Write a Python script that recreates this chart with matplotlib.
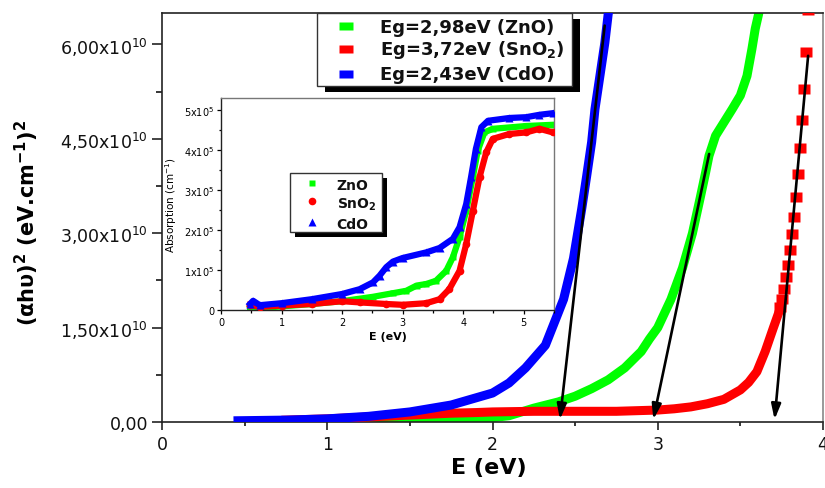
import numpy as np
import matplotlib
matplotlib.use("Agg")
import matplotlib.pyplot as plt
from matplotlib.ticker import MultipleLocator
from matplotlib.patches import Rectangle

# ---------------- data (main plot): (alpha h nu)^2 in units of 1e10 (eV.cm-1)^2
zno_E = [0.48, 1.0, 1.4, 1.6, 1.8, 2.0, 2.1, 2.25, 2.4, 2.5, 2.6, 2.7, 2.8, 2.9, 2.95,
         3.0, 3.08, 3.15, 3.21, 3.26, 3.29, 3.31, 3.33, 3.35, 3.40, 3.45, 3.50, 3.54,
         3.57, 3.59, 3.61, 3.63]
zno_Y = [0.0, 0.005, 0.01, 0.02, 0.04, 0.07, 0.10, 0.22, 0.32, 0.41, 0.53, 0.67, 0.86,
         1.12, 1.32, 1.5, 1.95, 2.45, 3.0, 3.6, 3.97, 4.23, 4.39, 4.55, 4.76, 4.97,
         5.19, 5.5, 5.93, 6.25, 6.48, 6.75]

sno2_E = [0.75, 1.0, 1.25, 1.5, 1.75, 1.9, 2.0, 2.25, 2.5, 2.75, 3.0, 3.1, 3.2, 3.3,
          3.4, 3.5, 3.55, 3.6, 3.65, 3.70, 3.727]
sno2_Y = [0.03, 0.05, 0.08, 0.11, 0.14, 0.15, 0.16, 0.17, 0.17, 0.17, 0.19, 0.21, 0.24,
          0.29, 0.36, 0.51, 0.63, 0.8, 1.12, 1.5, 1.7]
# separated points of the steep SnO2 edge
sno2_top_E = [3.739, 3.751, 3.765, 3.777, 3.789, 3.801, 3.813, 3.823, 3.836, 3.848,
              3.861, 3.873, 3.884, 3.898, 3.908]
sno2_top_Y = [1.82, 1.95, 2.11, 2.30, 2.50, 2.73, 2.98, 3.26, 3.58, 3.94, 4.35, 4.80,
              5.30, 5.885, 6.55]

cdo_E = [0.46, 0.75, 1.0, 1.25, 1.5, 1.75, 2.0, 2.1, 2.2, 2.32, 2.43, 2.49, 2.54, 2.57,
         2.60, 2.62, 2.65, 2.68, 2.70, 2.72]
cdo_Y = [0.02, 0.03, 0.05, 0.09, 0.16, 0.27, 0.46, 0.62, 0.86, 1.22, 1.95, 2.6, 3.39,
         3.91, 4.45, 4.97, 5.5, 6.03, 6.48, 6.8]

# tangent arrows (start -> end on the E axis)
arrow_start_E = [3.311, 3.91, 2.679]
arrow_start_Y = [4.26, 5.82, 6.30]
arrow_end_E = [2.973, 3.707, 2.408]
arrow_end_Y = [0.04, 0.04, 0.04]

legend_labels = ["Eg=2,98eV (ZnO)", r"Eg=3,72eV (SnO$_\mathbf{2}$)", "Eg=2,43eV (CdO)"]

x_ticks = [0, 1, 2, 3, 4]
y_ticks = [0.0, 1.5, 3.0, 4.5, 6.0]
y_tick_labels = ["0,00", r"1,50x10$^{10}$", r"3,00x10$^{10}$", r"4,50x10$^{10}$",
                 r"6,00x10$^{10}$"]

# ---------------- data (inset): absorption in units of 1e5 cm-1
zno_abs_E = [0.48, 1.0, 1.5, 2.0, 2.51, 2.84, 3.06, 3.23, 3.39, 3.55, 3.72, 3.83, 3.94,
             4.05, 4.16, 4.24, 4.35, 4.49, 5.04, 5.48]
zno_abs = [0.03, 0.09, 0.15, 0.22, 0.33, 0.42, 0.48, 0.61, 0.65, 0.73, 0.98, 1.32, 1.82,
           2.48, 3.32, 3.98, 4.44, 4.53, 4.60, 4.63]

sno2_abs_E = [0.48, 0.64, 1.0, 1.5, 2.0, 2.29, 2.73, 3.0, 3.39, 3.61, 3.77, 3.94, 4.05,
              4.16, 4.27, 4.38, 4.49, 4.76, 5.04, 5.26, 5.48]
sno2_abs = [0.13, 0.08, 0.11, 0.15, 0.22, 0.19, 0.15, 0.13, 0.17, 0.27, 0.52, 0.98, 1.65,
            2.48, 3.32, 3.94, 4.28, 4.40, 4.44, 4.53, 4.44]

cdo_abs_E = [0.48, 0.53, 0.64, 1.0, 1.5, 2.0, 2.29, 2.51, 2.62, 2.73, 2.84, 3.0, 3.39,
             3.61, 3.83, 3.94, 4.05, 4.13, 4.21, 4.30, 4.41, 4.76, 5.04, 5.26, 5.48]
cdo_abs = [0.15, 0.23, 0.12, 0.17, 0.27, 0.40, 0.52, 0.69, 0.86, 1.07, 1.21, 1.30, 1.44,
           1.55, 1.78, 2.07, 2.65, 3.32, 4.03, 4.57, 4.73, 4.80, 4.82, 4.88, 4.92]

inset_legend_labels = ["ZnO", r"SnO$_\mathbf{2}$", "CdO"]
inset_x_ticks = [0, 1, 2, 3, 4, 5]
inset_y_ticks = [0, 1, 2, 3, 4, 5]
inset_y_tick_labels = ["0", r"1x10$^5$", r"2x10$^5$", r"3x10$^5$", r"4x10$^5$", r"5x10$^5$"]

# ---------------- style
GREEN, RED, BLUE = "#00ff00", "#ff0000", "#0000ff"
plt.rcParams["font.family"] = ["DejaVu Sans"]
plt.rcParams["mathtext.fontset"] = "dejavusans"

W, H = 825, 489
fig = plt.figure(figsize=(W / 100, H / 100), dpi=100)


def fr(x0, y0, x1, y1):
    return [x0 / W, 1 - y1 / H, (x1 - x0) / W, (y1 - y0) / H]


rect_marker = [(-1, -0.82), (1, -0.82), (1, 0.82), (-1, 0.82), (-1, -0.82)]
leg_marker = [(-1, -0.62), (1, -0.62), (1, 0.62), (-1, 0.62), (-1, -0.62)]

# ---------------- main axes
ax = fig.add_axes(fr(162, 14, 823, 423))
S = 1e10
band = 6.5
ax.plot(zno_E, np.array(zno_Y) * S, color=GREEN, lw=band, solid_capstyle="projecting",
        solid_joinstyle="round", zorder=2)
ax.plot(sno2_E, np.array(sno2_Y) * S, color=RED, lw=band, solid_capstyle="projecting",
        solid_joinstyle="round", zorder=3)
ax.plot(sno2_top_E, np.array(sno2_top_Y) * S, ls="none", marker=rect_marker, ms=8,
        color=RED, mec="none", zorder=3)
ax.plot(cdo_E, np.array(cdo_Y) * S, color=BLUE, lw=band, solid_capstyle="projecting",
        solid_joinstyle="round", zorder=4)

for xs, ys, xe, ye in zip(arrow_start_E, arrow_start_Y, arrow_end_E, arrow_end_Y):
    ax.annotate("", xy=(xe, ye * S), xytext=(xs, ys * S),
                arrowprops=dict(arrowstyle="-|>,head_length=0.9,head_width=0.28",
                                color="k", lw=1.9, shrinkA=0, shrinkB=0,
                                mutation_scale=10),
                zorder=6)

ax.set_xlim(0, 4)
ax.set_ylim(0, 6.5e10)
ax.set_xticks(x_ticks)
ax.set_xticklabels([str(t) for t in x_ticks])
ax.xaxis.set_minor_locator(MultipleLocator(0.5))
ax.set_yticks(np.array(y_ticks) * S)
ax.set_yticklabels(y_tick_labels)
ax.yaxis.set_minor_locator(MultipleLocator(0.75e10))
ax.tick_params(axis="x", which="major", direction="out", length=5.5, width=1.1,
               labelsize=12.5, pad=4, colors="#111")
ax.tick_params(axis="x", which="minor", direction="out", length=3, width=1.1)
ax.tick_params(axis="y", which="major", direction="out", length=7, width=1.1,
               labelsize=12.5, pad=3, colors="#111")
ax.tick_params(axis="y", which="minor", direction="out", length=4, width=1.1)
for sp in ["left", "bottom", "top"]:
    ax.spines[sp].set_linewidth(1.2)
    ax.spines[sp].set_color("#222")
ax.spines["right"].set_linewidth(1.2)
ax.spines["right"].set_color("#888")

ax.set_xlabel("E (eV)", fontsize=16, fontweight="bold")
ax.xaxis.set_label_coords(0.495, -0.085)
ax.set_ylabel(r"($\mathbf{\alpha}$h$\mathbf{\upsilon}$)$^\mathbf{2}$ (eV.cm$^\mathbf{-1}$)$^\mathbf{2}$",
              fontsize=15, fontweight="bold")
ax.yaxis.set_label_coords(-0.183, 0.49)

# ---------------- inset axes
axi = fig.add_axes(fr(221, 99, 554, 311), zorder=5)
ilw = 4.5
axi.plot(zno_abs_E, zno_abs, color=GREEN, lw=ilw, marker="s", ms=5, mec="none",
         solid_joinstyle="round", zorder=2)
axi.plot(sno2_abs_E, sno2_abs, color=RED, lw=ilw, marker="o", ms=5.5, mec="none",
         solid_joinstyle="round", zorder=3)
axi.plot(cdo_abs_E, cdo_abs, color=BLUE, lw=ilw, marker="^", ms=6, mec="none",
         solid_joinstyle="round", zorder=4)
axi.set_xlim(0, 5.5)
axi.set_ylim(0, 5.3)
axi.set_xticks(inset_x_ticks)
axi.set_xticklabels([str(t) for t in inset_x_ticks])
axi.xaxis.set_minor_locator(MultipleLocator(0.5))
axi.set_yticks(inset_y_ticks)
axi.set_yticklabels(inset_y_tick_labels)
axi.yaxis.set_minor_locator(MultipleLocator(0.5))
axi.tick_params(which="major", direction="out", length=3, width=0.9, labelsize=7, pad=2)
axi.tick_params(which="minor", direction="out", length=1.8, width=0.9)
for sp in ["left", "bottom"]:
    axi.spines[sp].set_linewidth(1.0)
    axi.spines[sp].set_color("#222")
for sp in ["top", "right"]:
    axi.spines[sp].set_linewidth(1.0)
    axi.spines[sp].set_color("#777")
axi.set_xlabel("E (eV)", fontsize=8, fontweight="bold")
axi.xaxis.set_label_coords(0.5, -0.1)
axi.set_ylabel(r"Absorption (cm$^{-1}$)", fontsize=7.5)
axi.yaxis.set_label_coords(-0.125, 0.5)

# ---------------- overlay for legends (pixel coordinates)
ov = fig.add_axes([0, 0, 1, 1], zorder=20)
ov.set_xlim(0, W)
ov.set_ylim(H, 0)
ov.axis("off")

# main legend
ov.add_patch(Rectangle((325, 20), 255, 73, facecolor="k", edgecolor="none"))
ov.add_patch(Rectangle((317, 14), 255, 73, facecolor="w", edgecolor="#333", lw=1))
leg_colors = [GREEN, RED, BLUE]
leg_marker_y = [26.7, 49.5, 75.0]
leg_base_y = [33.3, 55.0, 80.5]
for c, my, by, lab in zip(leg_colors, leg_marker_y, leg_base_y, legend_labels):
    ov.plot([345.5], [my], marker=leg_marker, ms=9.4, color=c, mec="none", ls="none")
    ov.text(380, by, lab, fontsize=13, fontweight="bold", ha="left", va="baseline",
            color="#111")

# inset legend
ov.add_patch(Rectangle((295, 178.5), 92, 59, facecolor="k", edgecolor="none"))
ov.add_patch(Rectangle((290, 174), 92, 59, facecolor="w", edgecolor="#333", lw=1))
in_markers = ["s", "o", "^"]
in_ms = [5, 5.5, 6]
in_marker_y = [184.3, 202.3, 223.3]
in_base_y = [190.0, 208.3, 229.0]
for c, m, ms, my, by, lab in zip(leg_colors, in_markers, in_ms, in_marker_y, in_base_y,
                                 inset_legend_labels):
    ov.plot([311.7], [my], marker=m, ms=ms, color=c, mec="none", ls="none")
    ov.text(336.7, by, lab, fontsize=10, fontweight="bold", ha="left", va="baseline",
            color="#111")

fig.savefig("out.png", dpi=100)
